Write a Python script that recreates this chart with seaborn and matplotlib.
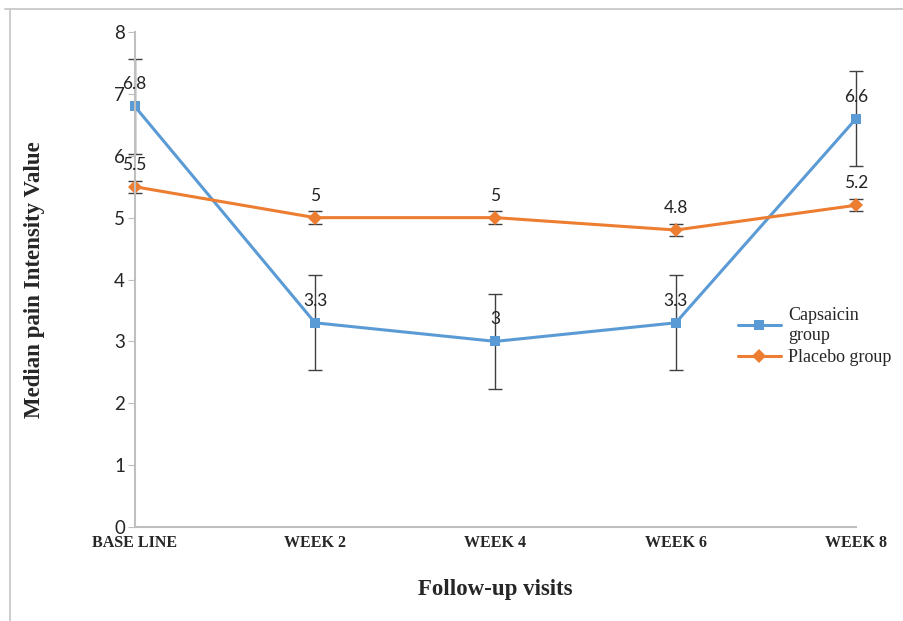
import pandas as pd
import matplotlib.pyplot as plt
import seaborn as sns
from matplotlib.lines import Line2D

visits = ["BASE LINE", "WEEK 2", "WEEK 4", "WEEK 6", "WEEK 8"]
capsaicin = [6.8, 3.3, 3.0, 3.3, 6.6]
placebo = [5.5, 5.0, 5.0, 4.8, 5.2]
capsaicin_err = [0.77, 0.77, 0.77, 0.77, 0.77]
placebo_err = [0.1, 0.1, 0.1, 0.1, 0.1]
labels_caps = ["6.8", "3.3", "3", "3.3", "6.6"]
labels_plac = ["5.5", "5", "5", "4.8", "5.2"]

df = pd.DataFrame({
    "visit": visits * 2,
    "value": capsaicin + placebo,
    "group": ["Capsaicin\ngroup"] * 5 + ["Placebo group"] * 5,
})

sns.set_style("white")
fig = plt.figure(figsize=(9.04, 6.21), dpi=100)
ax = fig.add_axes([0.149, 0.1514, 0.798, 0.797])

palette = {"Capsaicin\ngroup": "#5b9bd5", "Placebo group": "#ed7d31"}
sns.lineplot(data=df, x="visit", y="value", hue="group", style="group",
             markers={"Capsaicin\ngroup": "s", "Placebo group": "D"},
             dashes=False, palette=palette, linewidth=2.2, markersize=7,
             markeredgewidth=0, sort=False, ax=ax, clip_on=False)

# error bars
xs = range(len(visits))
ax.errorbar(xs, capsaicin, yerr=capsaicin_err, fmt="none", ecolor="#404040",
            elinewidth=1, capsize=5, capthick=1, clip_on=False, zorder=1)
ax.errorbar(xs, placebo, yerr=placebo_err, fmt="none", ecolor="#404040",
            elinewidth=1, capsize=5, capthick=1, clip_on=False, zorder=1)

for x, y, t in zip(xs, capsaicin, labels_caps):
    ax.annotate(t, (x, y), xytext=(0, 10), textcoords="offset points",
                ha="center", va="bottom", fontsize=12.5, family="Lato", color="#222222")
for x, y, t in zip(xs, placebo, labels_plac):
    ax.annotate(t, (x, y), xytext=(0, 10), textcoords="offset points",
                ha="center", va="bottom", fontsize=12.5, family="Lato", color="#222222")

ax.set_xlim(0, 4)
ax.set_ylim(0, 8)
ax.set_yticks(range(0, 9))
ax.set_xticks(list(xs))
ax.set_xticklabels(visits, family="Liberation Serif", fontweight="bold", fontsize=11.5)
ax.tick_params(axis="y", labelsize=13.5, length=5, color="#bfbfbf", left=True, direction="out", pad=2)
ax.tick_params(axis="x", length=0, pad=6)
for lab in ax.get_yticklabels():
    lab.set_family("Lato")
ax.spines["top"].set_visible(False)
ax.spines["right"].set_visible(False)
ax.spines["left"].set_color("#bfbfbf")
ax.spines["bottom"].set_color("#bfbfbf")
ax.spines["left"].set_linewidth(1.5)
ax.spines["bottom"].set_linewidth(1.5)

ax.set_xlabel("Follow-up visits", family="Liberation Serif", fontweight="bold",
              fontsize=16.5, labelpad=20)
ax.set_ylabel("Median pain Intensity Value", family="Liberation Serif",
              fontweight="bold", fontsize=16.5, labelpad=50)

leg = ax.legend(loc="center left", bbox_to_anchor=(0.826, 0.385), frameon=False,
                prop={"family": "Liberation Serif", "size": 13}, handlelength=2.4,
                labelspacing=0.3, handletextpad=0.4, borderaxespad=0)

# page frame: top and left edges only
fig.add_artist(Line2D([5 / 904, 1], [1 - 9 / 621] * 2, transform=fig.transFigure,
                      color="#c8c8c8", linewidth=1.3))
fig.add_artist(Line2D([10 / 904] * 2, [0, 1 - 9 / 621], transform=fig.transFigure,
                      color="#c8c8c8", linewidth=1.3))

fig.savefig("out.png", dpi=100)
